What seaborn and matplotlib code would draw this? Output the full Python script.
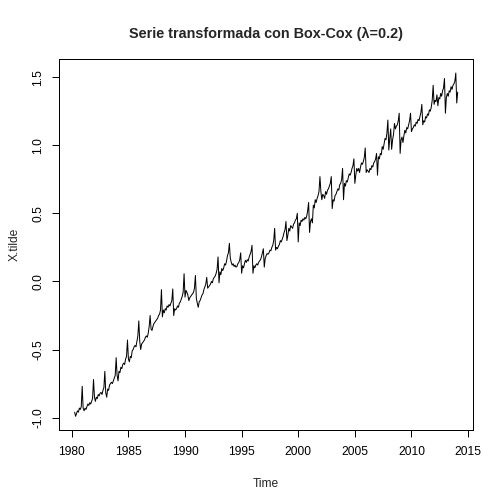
import numpy as np
import pandas as pd
import matplotlib
matplotlib.use("Agg")
import matplotlib.pyplot as plt
import seaborn as sns

# monthly series, starts April 1980
start_year = 1980
start_month = 4
y1980 = [-0.96, -0.99, -0.97, -0.95, -0.96, -0.93, -0.94, -0.92, -0.77]
y1981 = [-0.93, -0.95, -0.93, -0.94, -0.92, -0.90, -0.91, -0.89, -0.90, -0.88, -0.86, -0.72]
y1982 = [-0.85, -0.88, -0.85, -0.86, -0.83, -0.84, -0.82, -0.815, -0.83, -0.80, -0.78, -0.66]
y1983 = [-0.82, -0.85, -0.79, -0.80, -0.76, -0.75, -0.74, -0.75, -0.73, -0.71, -0.69, -0.56]
y1984 = [-0.69, -0.73, -0.66, -0.67, -0.63, -0.64, -0.61, -0.60, -0.61, -0.57, -0.55, -0.43]
y1985 = [-0.57, -0.59, -0.55, -0.56, -0.51, -0.50, -0.48, -0.47, -0.48, -0.44, -0.40, -0.29]
y1986 = [-0.44, -0.50, -0.46, -0.45, -0.44, -0.43, -0.41, -0.40, -0.41, -0.38, -0.33, -0.25]
y1987 = [-0.35, -0.36, -0.33, -0.31, -0.30, -0.29, -0.28, -0.27, -0.25, -0.24, -0.21, -0.06]
y1988 = [-0.26, -0.21, -0.23, -0.20, -0.21, -0.18, -0.19, -0.17, -0.18, -0.16, -0.14, -0.055]
y1989 = [-0.25, -0.20, -0.21, -0.20, -0.18, -0.19, -0.16, -0.15, -0.13, -0.11, -0.08, 0.057]
y1990 = [-0.115, -0.066, -0.08, -0.10, -0.14, -0.12, -0.11, -0.10, -0.09, -0.08, -0.05, 0.044]
y1991 = [-0.125, -0.16, -0.19, -0.15, -0.14, -0.12, -0.10, -0.09, -0.06, -0.04, -0.02, 0.03]
y1992 = [-0.05, -0.04, -0.03, -0.02, 0.0, -0.01, 0.02, 0.03, 0.04, 0.06, 0.09, 0.18]
y1993 = [-0.01, 0.07, 0.05, 0.095, 0.08, 0.10, 0.13, 0.12, 0.15, 0.19, 0.21, 0.28]
y1994 = [0.17, 0.14, 0.12, 0.13, 0.11, 0.12, 0.105, 0.11, 0.13, 0.14, 0.16, 0.21]
y1995 = [0.06, 0.115, 0.10, 0.13, 0.155, 0.14, 0.16, 0.15, 0.18, 0.20, 0.22, 0.265]
y1996 = [0.06, 0.115, 0.10, 0.12, 0.13, 0.12, 0.14, 0.15, 0.16, 0.18, 0.21, 0.24]
y1997 = [0.105, 0.17, 0.19, 0.205, 0.20, 0.21, 0.23, 0.225, 0.25, 0.265, 0.30, 0.39]
y1998 = [0.23, 0.25, 0.24, 0.26, 0.27, 0.30, 0.29, 0.31, 0.33, 0.36, 0.38, 0.44]
y1999 = [0.30, 0.34, 0.39, 0.37, 0.41, 0.40, 0.39, 0.42, 0.43, 0.45, 0.46, 0.50]
y2000 = [0.29, 0.43, 0.41, 0.45, 0.44, 0.46, 0.45, 0.47, 0.46, 0.48, 0.52, 0.58]
y2001 = [0.36, 0.44, 0.46, 0.43, 0.56, 0.54, 0.60, 0.58, 0.61, 0.63, 0.66, 0.77]
y2002 = [0.66, 0.60, 0.64, 0.63, 0.61, 0.66, 0.64, 0.67, 0.68, 0.70, 0.72, 0.77]
y2003 = [0.535, 0.60, 0.59, 0.63, 0.64, 0.66, 0.68, 0.67, 0.71, 0.72, 0.75, 0.83]
y2004 = [0.60, 0.72, 0.70, 0.74, 0.73, 0.76, 0.79, 0.78, 0.80, 0.83, 0.85, 0.90]
y2005 = [0.72, 0.78, 0.83, 0.81, 0.83, 0.80, 0.84, 0.87, 0.86, 0.88, 0.91, 0.98]
y2006 = [0.80, 0.82, 0.81, 0.80, 0.83, 0.82, 0.85, 0.84, 0.87, 0.88, 0.90, 0.94]
y2007 = [0.78, 0.915, 0.90, 0.94, 0.93, 0.99, 0.97, 1.01, 1.05, 1.04, 1.09, 1.185]
y2008 = [0.965, 1.05, 1.12, 0.97, 1.04, 1.08, 1.16, 1.12, 1.14, 1.15, 1.18, 1.235]
y2009 = [0.94, 1.04, 1.06, 1.02, 1.07, 1.11, 1.09, 1.13, 1.12, 1.15, 1.18, 1.235]
y2010 = [1.10, 1.12, 1.13, 1.15, 1.14, 1.17, 1.16, 1.19, 1.18, 1.21, 1.24, 1.30]
y2011 = [1.15, 1.18, 1.17, 1.21, 1.20, 1.23, 1.22, 1.26, 1.25, 1.28, 1.33, 1.44]
y2012 = [1.30, 1.33, 1.32, 1.37, 1.29, 1.35, 1.34, 1.38, 1.36, 1.40, 1.42, 1.49]
y2013 = [1.235, 1.35, 1.38, 1.36, 1.40, 1.39, 1.43, 1.41, 1.44, 1.45, 1.47, 1.53]
y2014 = [1.31, 1.39]

x_ticks = [1980, 1985, 1990, 1995, 2000, 2005, 2010, 2015]
y_ticks = [-1.0, -0.5, 0.0, 0.5, 1.0, 1.5]

values = (y1980 + y1981 + y1982 + y1983 + y1984 + y1985 + y1986 + y1987 + y1988
          + y1989 + y1990 + y1991 + y1992 + y1993 + y1994 + y1995 + y1996 + y1997
          + y1998 + y1999 + y2000 + y2001 + y2002 + y2003 + y2004 + y2005 + y2006
          + y2007 + y2008 + y2009 + y2010 + y2011 + y2012 + y2013 + y2014)
time = start_year + (start_month - 1 + np.arange(len(values))) / 12
df = pd.DataFrame({"Time": time, "X.tilde": values})

sns.set_style("white")
plt.rcParams['font.family'] = ['Liberation Sans', 'DejaVu Sans']

fig = plt.figure(figsize=(7, 7), dpi=72)
ax = fig.add_axes([0.1177, 0.1468, 0.8208, 0.7355])
sns.lineplot(data=df, x="Time", y="X.tilde", color="black", linewidth=1, ax=ax)
ax.margins(x=0.04, y=0.04)

ax.set_xticks(x_ticks)
ax.set_yticks(y_ticks)
ax.set_yticklabels([f"{v:.1f}" for v in y_ticks], rotation=90, va="center")
ax.tick_params(axis="both", direction="out", length=7, width=1, labelsize=12,
               color="black", labelcolor="black", left=True, bottom=True)
ax.tick_params(axis="x", pad=9)
ax.tick_params(axis="y", pad=8)
for s in ax.spines.values():
    s.set_visible(True)
    s.set_color("black")
    s.set_linewidth(1)

ax.set_xlabel("Time", fontsize=12, labelpad=20)
ax.set_ylabel("X.tilde", fontsize=12, labelpad=12)
ax.set_title("Serie transformada con Box-Cox (λ=0.2)", fontsize=14.4, fontweight="bold", pad=21)

fig.savefig("out.png", dpi=72, facecolor="white")
